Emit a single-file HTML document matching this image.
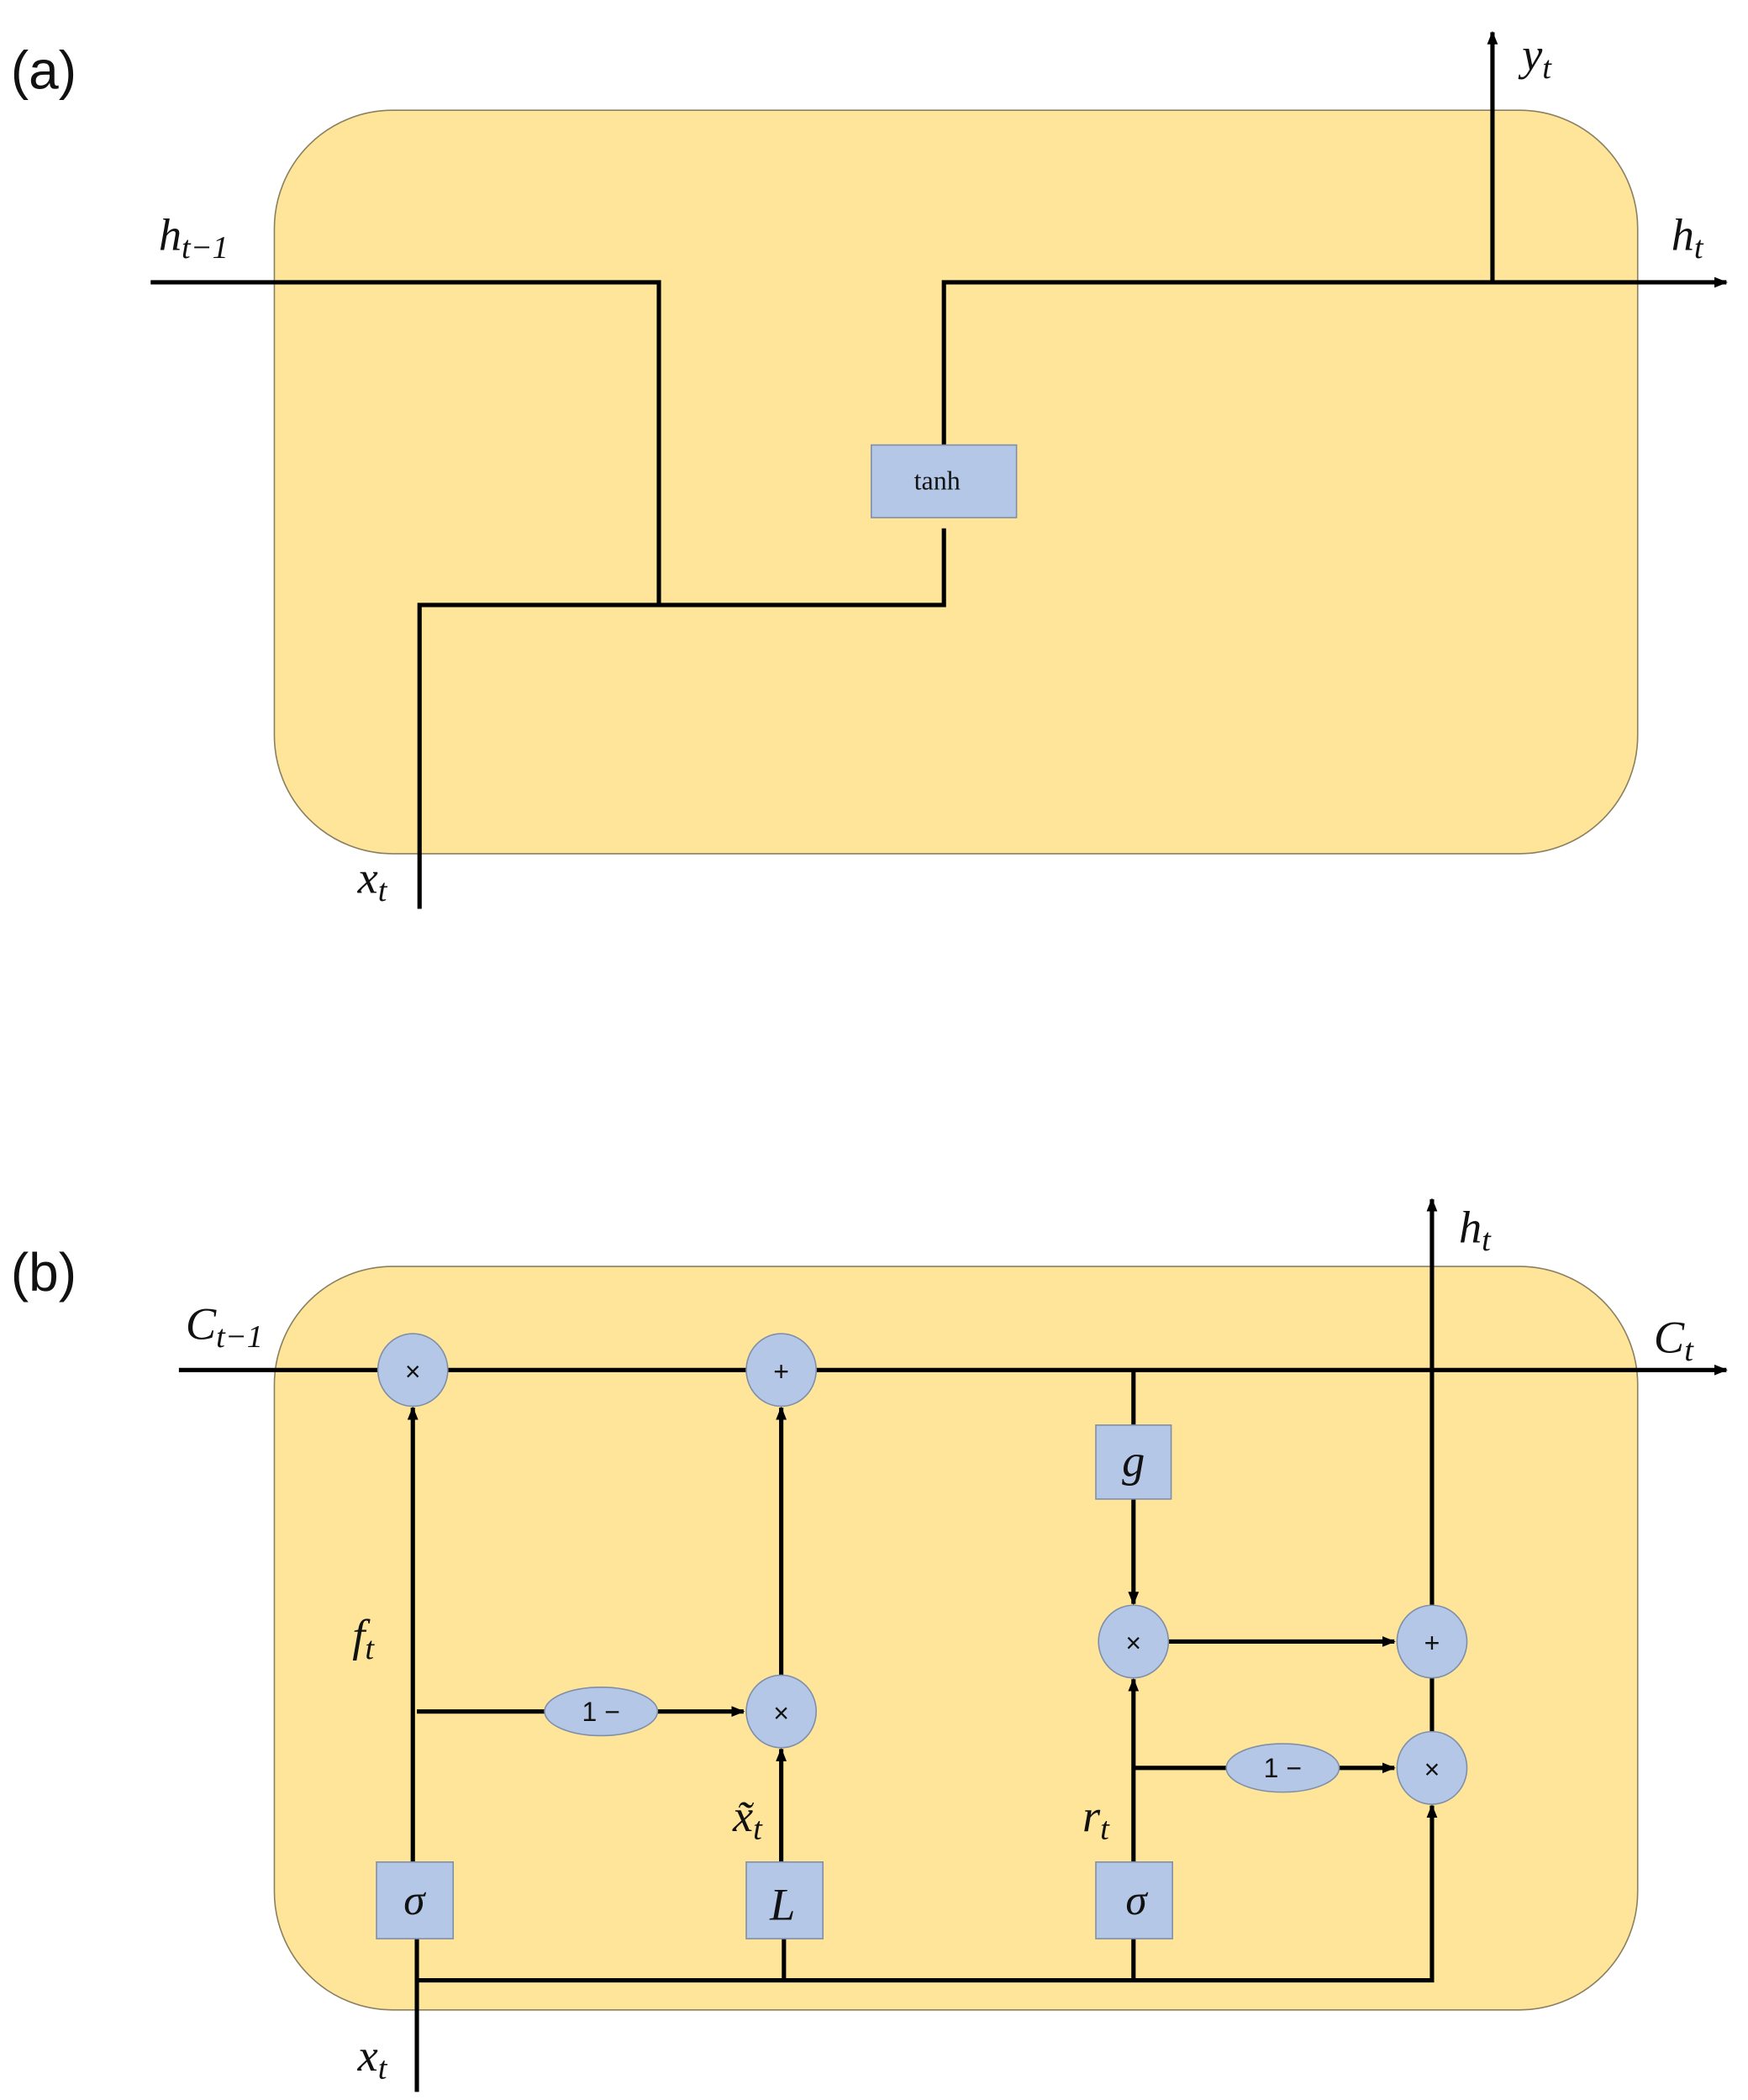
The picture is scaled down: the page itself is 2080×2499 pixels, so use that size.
<!DOCTYPE html>
<html><head><meta charset="utf-8"><style>
html,body{margin:0;padding:0;background:#fff}
svg{display:block}
.m{font-family:"Liberation Serif",serif;font-style:italic;fill:#111}
.s{font-family:"Liberation Sans",sans-serif;fill:#111}
</style></head><body>
<svg width="2080" height="2499" viewBox="0 0 1300 1562" xmlns="http://www.w3.org/2000/svg">
<defs>
<marker id="a" markerWidth="10" markerHeight="10" refX="9" refY="5" orient="auto" markerUnits="userSpaceOnUse">
<path d="M0,1 L10,5 L0,9 Z" fill="#000"/></marker>
</defs>
<!-- (a) -->
<text x="8" y="66" class="s" font-size="40">(a)</text>
<rect x="204" y="82" width="1014" height="553" rx="88" ry="88" fill="#FEE599" stroke="#8a8060" stroke-width="1"/>
<g stroke="#000" stroke-width="3.2" fill="none">
<polyline points="112,210 490,210 490,450"/>
<polyline points="312,676 312,450 702,450 702,393"/>
<polyline points="702,331 702,210 1284,210" marker-end="url(#a)"/>
<line x1="1110" y1="210" x2="1110" y2="24" marker-end="url(#a)"/>
</g>
<rect x="648" y="331" width="108" height="54" fill="#B4C7E7" stroke="#7f8fa8" stroke-width="1"/>
<text x="697" y="364" class="s" font-family="Liberation Serif" font-size="20" text-anchor="middle" style="font-family:'Liberation Serif',serif">tanh</text>
<text x="118" y="186" class="m" font-size="34">h<tspan font-size="24" dy="6">t−1</tspan></text>
<text x="1243" y="186" class="m" font-size="34">h<tspan font-size="24" dy="6">t</tspan></text>
<text x="1132" y="52" class="m" font-size="34">y<tspan font-size="24" dy="6">t</tspan></text>
<text x="266" y="664" class="m" font-size="34">x<tspan font-size="24" dy="6">t</tspan></text>

<!-- (b) -->
<text x="8" y="960" class="s" font-size="40">(b)</text>
<rect x="204" y="942" width="1014" height="553" rx="88" ry="88" fill="#FEE599" stroke="#8a8060" stroke-width="1"/>
<g stroke="#000" stroke-width="3.2" fill="none">
<line x1="133" y1="1019" x2="1284" y2="1019" marker-end="url(#a)"/>
<line x1="1065" y1="1195" x2="1065" y2="892" marker-end="url(#a)"/>
<line x1="843" y1="1019" x2="843" y2="1060"/>
<line x1="843" y1="1115" x2="843" y2="1193" marker-end="url(#a)"/>
<line x1="869" y1="1221" x2="1037" y2="1221" marker-end="url(#a)"/>
<line x1="1065" y1="1247" x2="1065" y2="1290"/>
<line x1="307" y1="1385" x2="307" y2="1047" marker-end="url(#a)"/>
<line x1="310" y1="1442" x2="310" y2="1556"/>
<polyline points="310,1473 1065,1473 1065,1343" marker-end="url(#a)"/>
<line x1="583" y1="1473" x2="583" y2="1442"/>
<line x1="843" y1="1473" x2="843" y2="1442"/>
<line x1="310" y1="1273" x2="406" y2="1273"/>
<line x1="489" y1="1273" x2="553" y2="1273" marker-end="url(#a)"/>
<line x1="581" y1="1385" x2="581" y2="1301" marker-end="url(#a)"/>
<line x1="581" y1="1247" x2="581" y2="1047" marker-end="url(#a)"/>
<line x1="843" y1="1385" x2="843" y2="1249" marker-end="url(#a)"/>
<line x1="843" y1="1315" x2="912" y2="1315"/>
<line x1="996" y1="1315" x2="1037" y2="1315" marker-end="url(#a)"/>
</g>
<g fill="#B4C7E7" stroke="#7f8fa8" stroke-width="1">
<ellipse cx="307" cy="1019" rx="26" ry="27"/>
<ellipse cx="581" cy="1019" rx="26" ry="27"/>
<ellipse cx="581" cy="1273" rx="26" ry="27"/>
<ellipse cx="843" cy="1221" rx="26" ry="27"/>
<ellipse cx="1065" cy="1221" rx="26" ry="27"/>
<ellipse cx="1065" cy="1315" rx="26" ry="27"/>
<ellipse cx="447" cy="1273" rx="42" ry="18"/>
<ellipse cx="954" cy="1315" rx="42" ry="18"/>
<rect x="815" y="1060" width="56" height="55"/>
<rect x="280" y="1385" width="57" height="57"/>
<rect x="555" y="1385" width="57" height="57"/>
<rect x="815" y="1385" width="57" height="57"/>
</g>
<g class="s" font-size="20" text-anchor="middle">
<text x="307" y="1027">×</text>
<text x="581" y="1027">+</text>
<text x="581" y="1281">×</text>
<text x="843" y="1229">×</text>
<text x="1065" y="1229">+</text>
<text x="1065" y="1323">×</text>
<text x="447" y="1280">1 −</text>
<text x="954" y="1322">1 −</text>
</g>
<g class="m" text-anchor="middle">
<text x="843" y="1098" font-size="34">g</text>
<text x="308" y="1424" font-size="32">σ</text>
<text x="582" y="1428" font-size="34">L</text>
<text x="845" y="1424" font-size="32">σ</text>
</g>
<text x="138" y="996" class="m" font-size="34">C<tspan font-size="24" dy="6">t−1</tspan></text>
<text x="1230" y="1006" class="m" font-size="34">C<tspan font-size="24" dy="6">t</tspan></text>
<text x="1085" y="924" class="m" font-size="34">h<tspan font-size="24" dy="6">t</tspan></text>
<text x="262" y="1228" class="m" font-size="34">f<tspan font-size="24" dy="6">t</tspan></text>
<text x="545" y="1362" class="m" font-size="34">x̃<tspan font-size="24" dy="6">t</tspan></text>
<text x="805" y="1362" class="m" font-size="34">r<tspan font-size="24" dy="6">t</tspan></text>
<text x="266" y="1540" class="m" font-size="34">x<tspan font-size="24" dy="6">t</tspan></text>
</svg>
</body></html>
